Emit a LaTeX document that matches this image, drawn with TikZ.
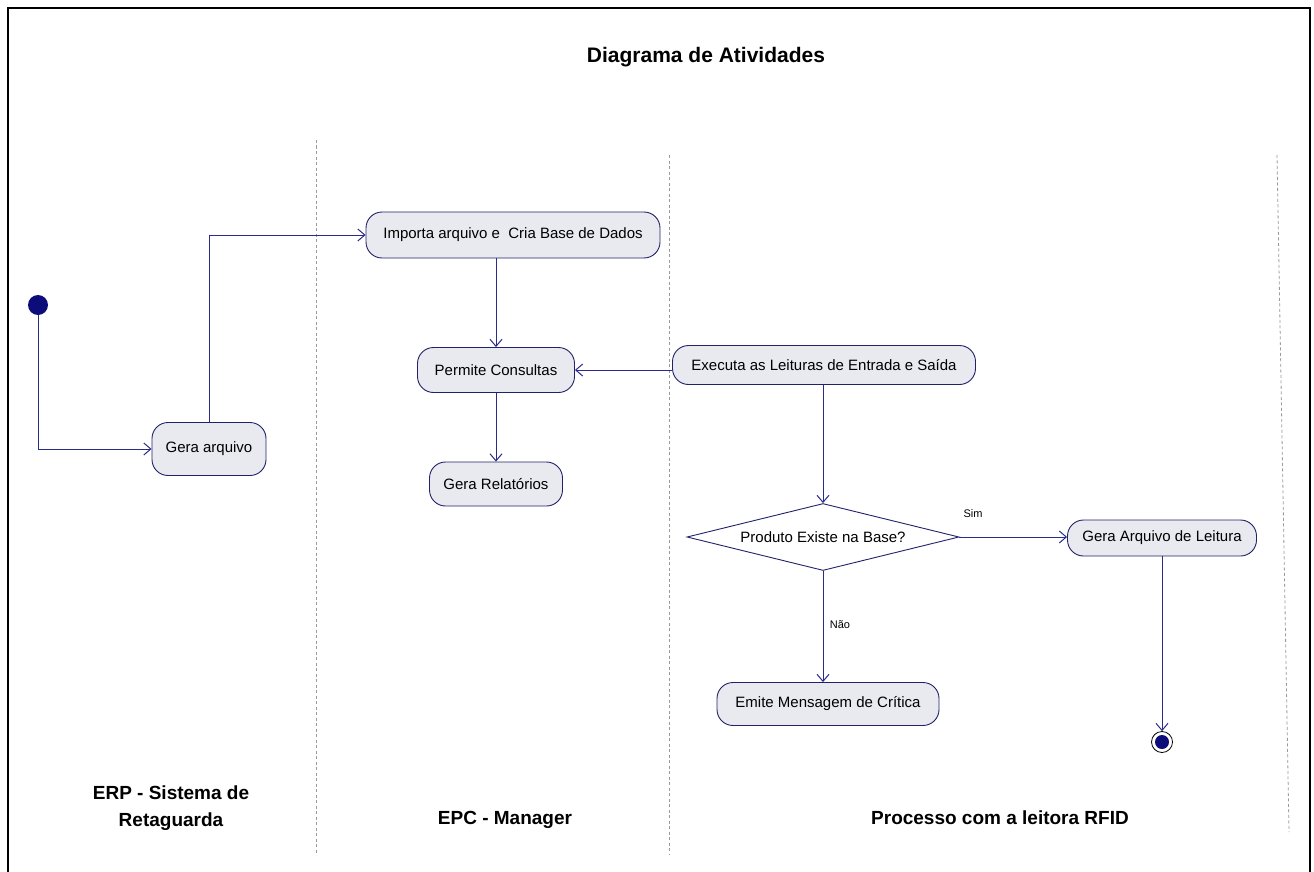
\documentclass[tikz,border=0pt]{standalone}
\usepackage{fontspec}
\setmainfont{Liberation Sans}
\usetikzlibrary{arrows.meta,shapes.geometric}

\definecolor{flow}{HTML}{2B2B8C}
\definecolor{edgecol}{HTML}{22226A}
\definecolor{actfill}{HTML}{E9EAF0}
\definecolor{lanecol}{HTML}{9A9A9A}
\definecolor{dotcol}{HTML}{0C0C7A}

\tikzset{
  act/.style={draw=edgecol, fill=actfill, rounded corners=16pt, line width=0.9pt,
              inner sep=0pt, font=\fontsize{15}{18}\selectfont},
  flowline/.style={draw=flow, line width=1pt, -{Straight Barb[length=7pt,width=12pt]}},
  lanesep/.style={draw=lanecol, dash pattern=on 3pt off 2.5pt, line width=0.8pt},
  lanelabel/.style={font=\bfseries\fontsize{19}{27}\selectfont, align=center},
  guard/.style={font=\fontsize{11}{13}\selectfont},
}

\begin{document}
\begin{tikzpicture}[x=1pt,y=-1pt]
\useasboundingbox (0,0) rectangle (1314,872);
\fill[white] (0,0) rectangle (1314,872);

% outer frame
\draw[line width=2pt] (8,880) -- (8,8) -- (1310,8) -- (1310,880);

% title
\node[font=\bfseries\fontsize{21}{25}\selectfont] (title) at (706,57) {Diagrama de Atividades};

% swimlane separators
\draw[lanesep] (316,140) -- (316,855);
\draw[lanesep] (669,155) -- (669,855);
\draw[lanesep] (1277,155) -- (1289,832);

% lane names
\node[lanelabel] (laneA) at (171,808) {ERP - Sistema de\\Retaguarda};
\node[lanelabel] (laneB) at (505,820) {EPC - Manager};
\node[lanelabel] (laneC) at (1000,818) {Processo com a leitora RFID};

% initial and final states
\node[circle, fill=dotcol, minimum size=20pt, inner sep=0pt] (start) at (38,305) {};
\node[circle, draw=black, fill=white, line width=0.8pt, minimum size=21pt, inner sep=0pt] (fim) at (1162,742) {};
\fill[dotcol] (fim.center) circle (7pt);

% activities
\node[act, minimum width=114pt, minimum height=53pt] (ga)   at (209,449) {Gera arquivo};
\node[act, minimum width=294pt, minimum height=46pt] (imp)  at (513,235) {Importa arquivo e \ Cria Base de Dados};
\node[act, minimum width=157pt, minimum height=45pt] (perm) at (496,370) {Permite Consultas};
\node[act, minimum width=133pt, minimum height=44pt] (rel)  at (496,484) {Gera Relatórios};
\node[act, minimum width=303pt, minimum height=39pt] (exe)  at (824,365) {Executa as Leituras de Entrada e Saída};
\node[act, minimum width=189pt, minimum height=36pt] (gal)  at (1162,538) {Gera Arquivo de Leitura};
\node[act, minimum width=222pt, minimum height=43pt] (emi)  at (828,704) {Emite Mensagem de Crítica};

% decision
\node[diamond, aspect=4.06, draw=edgecol, line width=0.9pt, fill=white, inner sep=0pt,
      minimum width=272pt, minimum height=67pt, font=\fontsize{15}{18}\selectfont] (dec) at (823,537) {Produto Existe na Base?};

% flows
\draw[flowline] (start.south) |- (ga.west);
\draw[flowline] (ga.north) |- (imp.west);
\draw[flowline] (perm.north |- imp.south) -- (perm.north);
\draw[flowline] (perm.south) -- (rel.north);
\draw[flowline] (exe.west |- perm.east) -- (perm.east);
\draw[flowline] (dec.north |- exe.south) -- (dec.north);
\draw[flowline] (dec.east) -- (gal.west |- dec.east);
\draw[flowline] (dec.south) -- (dec.south |- emi.north);
\draw[flowline] (gal.south) -- (fim.north);

% guards
\node[guard] (sim) at (973,514) {Sim};
\node[guard] (nao) at (840,625) {Não};
\end{tikzpicture}
\end{document}
